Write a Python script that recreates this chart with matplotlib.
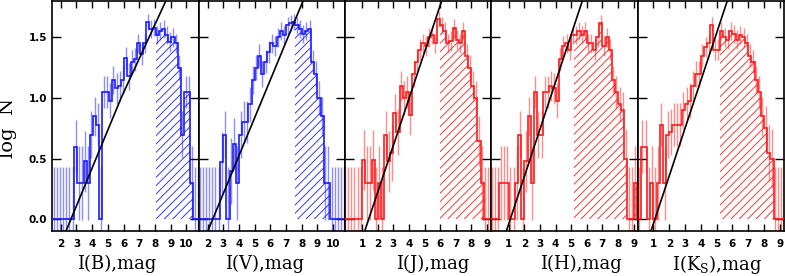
import numpy as np
import matplotlib
matplotlib.use('Agg')
import matplotlib.pyplot as plt

# log N per 0.2 mag bin
bin_width = 0.2

b_start = 1.45
b_logn = [0, 0, 0, 0, 0, 0, 0, 0.60, 0.30, 0.30, 0.48, 0.30, 0.70, 0.85, 0.78, 0.0,
          1.05, 1.05, 0.98, 1.15, 1.08, 1.10, 1.15, 1.33, 1.18, 1.30, 1.32, 1.45, 1.36,
          1.45, 1.63, 1.57, 1.58, 1.52, 1.55, 1.57, 1.52, 1.46, 1.50, 1.45, 1.25, 0.70,
          1.05, 1.05, 0.30, 0, 0]
b_hatch = 8.05

v_start = 1.4
v_logn = [0, 0, 0, 0, 0, 0, 0, 0.47, 0.70, 0.0, 0.40, 0.62, 0.30, 0.70, 0.80, 0.80,
          0.95, 1.15, 1.25, 1.35, 1.20, 1.30, 1.38, 1.45, 1.43, 1.50, 1.55, 1.52, 1.60,
          1.62, 1.63, 1.60, 1.57, 1.53, 1.55, 1.57, 1.30, 1.20, 1.00, 0.85, 0.30, 0.30,
          0, 0, 0, 0, 0]
v_hatch = 7.6

j_start = -0.2
j_logn = [0, 0, 0, 0, 0, 0, 0.49, 0.30, 0.30, 0.49, 0.0, 0.30, 0.0, 0.70, 0.48, 0.55,
          0.88, 0.72, 1.10, 1.00, 1.05, 0.86, 1.20, 1.30, 1.40, 1.45, 1.43, 1.50, 1.52,
          1.45, 1.65, 1.60, 1.55, 1.45, 1.47, 1.58, 1.48, 1.45, 1.55, 1.35, 1.25, 1.10,
          1.00, 0.65, 0.30, 0, 0, 0]
j_hatch = 6.0

h_start = -0.2
h_logn = [0, 0, 0, 0.30, 0.30, 0.30, 0, 0, 0.30, 0.70, 0, 0.48, 0.85, 0.30, 1.05, 0.70,
          0.70, 1.05, 1.05, 1.10, 1.08, 0.98, 1.32, 1.43, 1.45, 1.40, 1.52, 1.52, 1.55,
          1.52, 1.55, 1.45, 1.45, 1.40, 1.50, 1.62, 1.43, 1.50, 1.40, 1.15, 1.05, 0.95,
          0.90, 0.50, 0, 0, 0.30, 0]
h_hatch = 5.2

k_start = -0.2
k_logn = [0, 0, 0.60, 0.60, 0, 0.30, 0, 0.30, 0.78, 0.30, 0.70, 0.72, 0.78, 0.78, 0.78,
          0.90, 0.95, 0.98, 1.10, 1.20, 1.20, 1.35, 1.42, 1.45, 1.60, 1.40, 1.40, 1.55,
          1.50, 1.48, 1.55, 1.53, 1.48, 1.52, 1.50, 1.45, 1.35, 1.30, 1.15, 1.05, 0.85,
          0.75, 0.55, 0.50, 0, 0, 0, 0]
k_hatch = 5.2

# linear fits (two or three points each)
b_fit_x = [2.32, 5.84, 8.69]
b_fit_y = [-0.1, 1.0, 1.8]
v_fit_x = [2.0, 8.08]
v_fit_y = [-0.1, 1.8]
j_fit_x = [1.15, 6.1]
j_fit_y = [-0.1, 1.8]
h_fit_x = [0.83, 5.71]
h_fit_y = [-0.1, 1.8]
k_fit_x = [0.83, 5.67]
k_fit_y = [-0.1, 1.8]

xlabels = ['I(B),mag', 'I(V),mag', 'I(J),mag', 'I(H),mag', r'I(K$_{\rm S}$),mag']
xlims = [(1.46, 10.78), (1.43, 10.75), (-0.11, 9.28), (-0.13, 9.25), (-0.01, 9.25)]
xticks = [range(2, 11), range(2, 11), range(1, 10), range(1, 10), range(1, 10)]
label_pos = [0.44, 0.45, 0.60, 0.615, 0.545]
label_y = [-0.105, -0.105, -0.105, -0.105, -0.095]

panels = [
    (b_start, b_logn, b_hatch, b_fit_x, b_fit_y, '#1a1aff', '#6f6fff'),
    (v_start, v_logn, v_hatch, v_fit_x, v_fit_y, '#1a1aff', '#6f6fff'),
    (j_start, j_logn, j_hatch, j_fit_x, j_fit_y, '#ff1a1a', '#ff7070'),
    (h_start, h_logn, h_hatch, h_fit_x, h_fit_y, '#ff1a1a', '#ff7070'),
    (k_start, k_logn, k_hatch, k_fit_x, k_fit_y, '#ff1a1a', '#ff7070'),
]

plt.rcParams['hatch.linewidth'] = 0.6
plt.rcParams['mathtext.fontset'] = 'dejavuserif'

fig = plt.figure(figsize=(7.85, 2.76), dpi=100)
left, bottom, w, h = 52.3 / 785, 45 / 276, 146.3 / 785, 230 / 276

for i, (start, logn, hatch_from, fx, fy, col, ecol) in enumerate(panels):
    ax = fig.add_axes([left + i * w, bottom, w, h])
    logn = np.array(logn)
    edges = start + bin_width * np.arange(len(logn) + 1)
    centers = edges[:-1] + bin_width / 2

    # error of log N from Poisson counts
    n = 10 ** logn
    err = 0.434 / np.sqrt(n)
    ax.errorbar(centers, logn, yerr=err, fmt='none', ecolor=ecol,
                elinewidth=1.0, alpha=0.8, zorder=1)

    k0 = int(round((hatch_from - start) / bin_width))
    ax.stairs(logn[k0:], edges[k0:], baseline=0, fill=True, facecolor='none',
              edgecolor=col, hatch='////', linewidth=0, zorder=2)
    ax.stairs(logn, edges, baseline=None, color=col, linewidth=1.2, zorder=3)
    ax.plot(fx, fy, color='black', linewidth=1.2, zorder=4)

    ax.set_xlim(*xlims[i])
    ax.set_ylim(-0.095, 1.80)
    ax.set_xticks(list(xticks[i]))
    ax.set_xticklabels([str(t) for t in xticks[i]], fontsize=7.5, fontweight='bold')
    ax.set_yticks([0, 0.5, 1.0, 1.5])
    ax.tick_params(axis='x', direction='in', top=True, length=5, width=1, pad=5.5)
    ax.tick_params(axis='y', direction='in', right=True, length=6.5, width=1)
    if i == 0:
        ax.set_yticklabels(['0.0', '0.5', '1.0', '1.5'], fontsize=7.5, fontweight='bold')
        ax.set_ylabel('log  N', fontsize=14, family='DejaVu Serif')
        ax.yaxis.set_label_coords(-0.24, 0.45)
    else:
        ax.tick_params(axis='y', labelleft=False)
    for s in ax.spines.values():
        s.set_linewidth(1.2)
    ax.set_xlabel(xlabels[i], fontsize=13, family='DejaVu Serif')
    ax.xaxis.set_label_coords(label_pos[i], label_y[i])

plt.savefig('out.png', dpi=100)
